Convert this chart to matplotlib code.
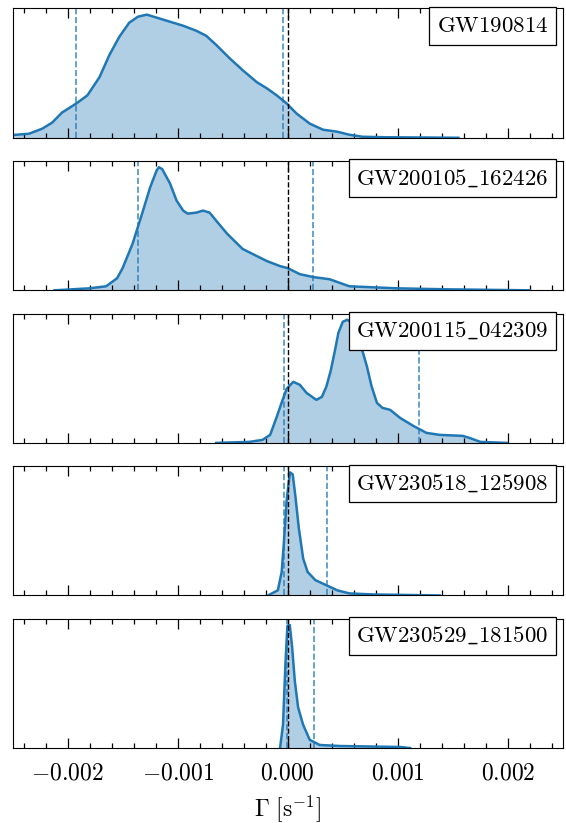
import numpy as np
import matplotlib
matplotlib.use('Agg')
import matplotlib.pyplot as plt
from matplotlib.ticker import MultipleLocator, FuncFormatter

plt.rcParams['mathtext.fontset'] = 'cm'
plt.rcParams['font.family'] = 'serif'
plt.rcParams['font.size'] = 17

# event names shown in the boxes
events = ['GW190814', 'GW200105_162426', 'GW200115_042309',
          'GW230518_125908', 'GW230529_181500']

# posterior density, Gamma in units of 1e-3 s^-1
gamma_1 = [-2.50, -2.35, -2.23, -2.14, -2.05, -1.92, -1.82, -1.71, -1.62, -1.53, -1.44,
           -1.36, -1.28, -1.19, -1.07, -0.95, -0.83, -0.74, -0.65, -0.53, -0.41, -0.28,
           -0.19, -0.10, -0.01, 0.08, 0.20, 0.32, 0.45, 0.56, 0.68, 0.90, 1.20, 1.55]
dens_1 = [2.7, 4, 9, 15, 25, 34, 42, 60, 82, 100, 114,
          120, 122, 119, 115, 111, 106, 101, 92, 79, 67, 55,
          49, 42, 34, 24, 14, 8, 6, 3, 1, 0.5, 0.3, 0]

gamma_2 = [-2.12, -1.80, -1.65, -1.55, -1.50, -1.41, -1.32, -1.25, -1.19, -1.17, -1.14,
           -1.07, -1.01, -0.95, -0.91, -0.83, -0.77, -0.71, -0.65, -0.55, -0.41, -0.19,
           -0.07, 0.00, 0.11, 0.24, 0.38, 0.56, 0.99, 1.45, 2.20]
dens_2 = [0, 2, 4, 12, 22, 46, 77, 102, 119, 122, 120,
          106, 89, 79, 76, 77, 79, 77, 69, 56, 41, 29,
          24, 22, 16, 13, 11, 4, 2, 1, 0]

gamma_3 = [-0.65, -0.35, -0.23, -0.16, -0.10, -0.05, -0.01, 0.05, 0.11, 0.17, 0.26,
           0.31, 0.35, 0.39, 0.43, 0.46, 0.50, 0.54, 0.58, 0.63, 0.67, 0.72,
           0.76, 0.81, 0.86, 0.93, 1.02, 1.14, 1.26, 1.38, 1.59, 1.65, 1.75, 1.99]
dens_3 = [0, 1, 3, 8, 26, 42, 54, 61, 58, 50, 43,
          46, 56, 72, 93, 110, 121, 123, 120, 110, 95, 76,
          57, 40, 35, 33, 25, 17, 10, 8, 7, 5, 1, 0]

gamma_4 = [-0.18, -0.09, -0.055, -0.036, -0.01, 0.02, 0.045, 0.07, 0.10, 0.14, 0.18,
           0.25, 0.35, 0.45, 0.56, 0.77, 1.38]
dens_4 = [0, 5, 23, 50, 93, 120, 118, 96, 66, 36, 23,
          15, 10, 5, 2, 1, 0]

gamma_5 = [-0.07, -0.043, -0.021, -0.003, 0.018, 0.039, 0.064, 0.094, 0.139, 0.20, 0.29,
           0.47, 1.02, 1.11]
dens_5 = [0, 23, 83, 120, 121, 100, 66, 40, 23, 8, 3,
          2, 1, 0]

# 90% interval bounds (blue dashed), units of 1e-3 s^-1
lower = [-1.92, -1.36, -0.03, -0.03, -0.01]
upper = [-0.045, 0.23, 1.19, 0.36, 0.24]

gammas = [gamma_1, gamma_2, gamma_3, gamma_4, gamma_5]
denss = [dens_1, dens_2, dens_3, dens_4, dens_5]

fig, axes = plt.subplots(5, 1, figsize=(5.66, 8.23), dpi=100, sharex=True)
fig.subplots_adjust(left=0.0221, right=0.9947, top=0.9897, bottom=0.0911, hspace=0.18)

blue = '#1f77b4'
for i, ax in enumerate(axes):
    x = np.array(gammas[i]) * 1e-3
    y = np.array(denss[i])
    ax.fill_between(x, 0, y, color=blue, alpha=0.35, lw=0)
    ax.plot(x, y, color=blue, lw=1.8, solid_joinstyle='round')
    ax.axvline(0, color='k', ls='--', lw=1.0)
    ax.axvline(lower[i] * 1e-3, color=blue, ls='--', lw=1.2, alpha=0.8)
    ax.axvline(upper[i] * 1e-3, color=blue, ls='--', lw=1.2, alpha=0.8)
    ax.set_ylim(0, max(y) * 1.05)
    ax.set_xlim(-0.0025, 0.0025)
    ax.xaxis.set_major_locator(MultipleLocator(0.001))
    ax.xaxis.set_minor_locator(MultipleLocator(0.0002))
    ax.xaxis.set_major_formatter(FuncFormatter(lambda v, p: r'$%.3f$' % (0 if abs(v) < 1e-9 else v)))
    ax.tick_params(which='both', direction='in', top=True, bottom=True,
                   left=False, labelleft=False, width=0.9)
    ax.tick_params(which='major', length=7, pad=10)
    ax.tick_params(which='minor', length=3.5)
    label = r'$\mathrm{' + events[i].replace('_', r'\_') + '}$'
    ax.annotate(label, xy=(1, 1), xycoords='axes fraction', xytext=(-10.5, -4.5),
                textcoords='offset points', ha='right', va='top', fontsize=16.5,
                bbox=dict(boxstyle='square,pad=0.34', fc='white', ec='black', lw=0.9))

axes[-1].set_xlabel(r'$\Gamma\ [\mathrm{s}^{-1}]$', labelpad=6)

fig.savefig('out.png', dpi=100)
